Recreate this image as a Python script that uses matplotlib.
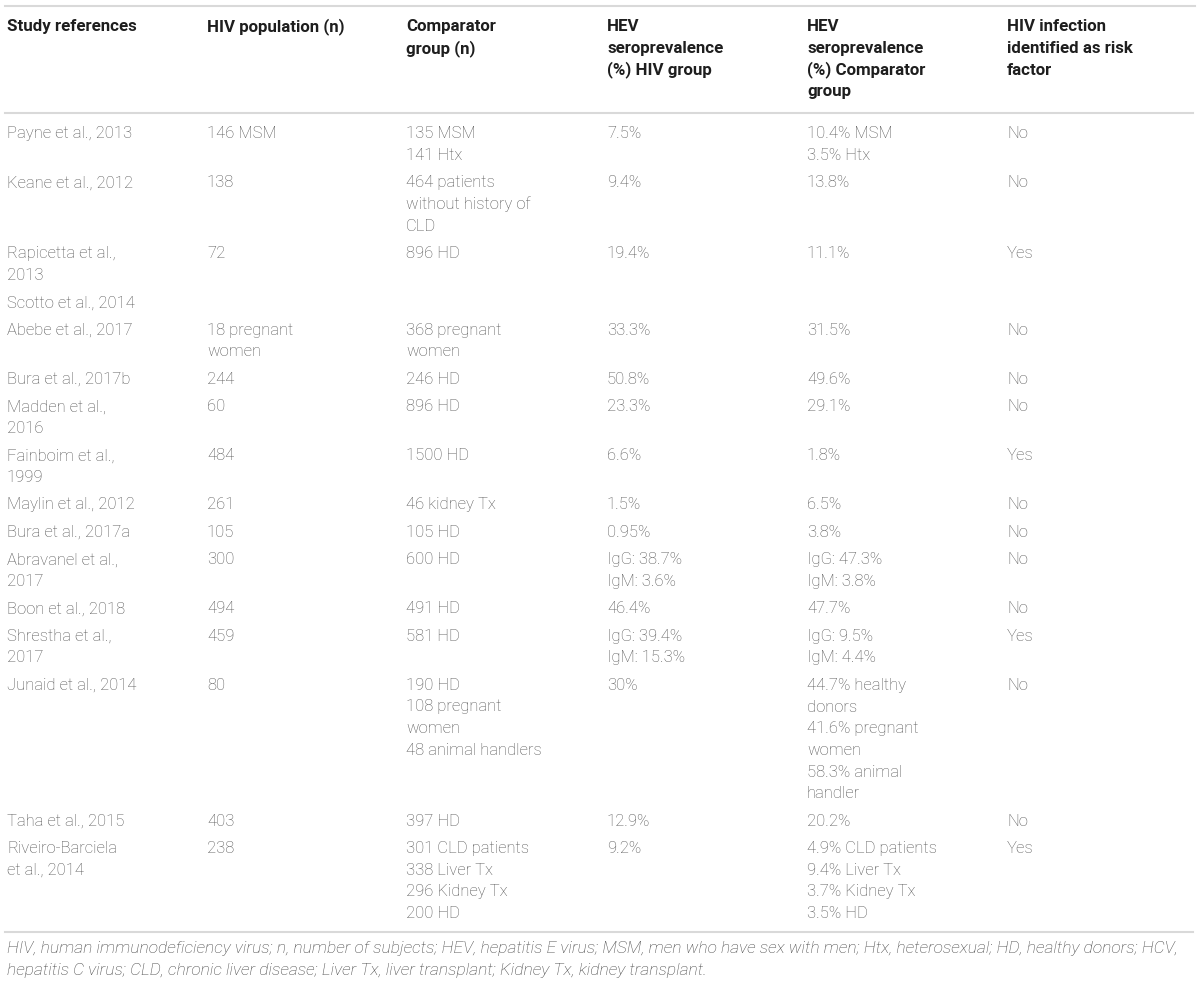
import matplotlib.pyplot as plt

# table content (line breaks as in the published table)
headers = ["Study references", "HIV population (n)", "Comparator\ngroup (n)",
           "HEV\nseroprevalence\n(%) HIV group",
           "HEV\nseroprevalence\n(%) Comparator\ngroup",
           "HIV infection\nidentified as risk\nfactor"]

studies = ["Payne et al., 2013", "Keane et al., 2012", "Rapicetta et al.,\n2013",
           "Scotto et al., 2014", "Abebe et al., 2017", "Bura et al., 2017b",
           "Madden et al.,\n2016", "Fainboim et al.,\n1999", "Maylin et al., 2012",
           "Bura et al., 2017a", "Abravanel et al.,\n2017", "Boon et al., 2018",
           "Shrestha et al.,\n2017", "Junaid et al., 2014", "Taha et al., 2015",
           "Riveiro-Barciela\net al., 2014"]
hiv_pop = ["146 MSM", "138", "72", "", "18 pregnant\nwomen", "244", "60", "484",
           "261", "105", "300", "494", "459", "80", "403", "238"]
comparator = ["135 MSM\n141 Htx", "464 patients\nwithout history of\nCLD", "896 HD", "",
              "368 pregnant\nwomen", "246 HD", "896 HD", "1500 HD", "46 kidney Tx",
              "105 HD", "600 HD", "491 HD", "581 HD",
              "190 HD\n108 pregnant\nwomen\n48 animal handlers", "397 HD",
              "301 CLD patients\n338 Liver Tx\n296 Kidney Tx\n200 HD"]
hev_hiv = ["7.5%", "9.4%", "19.4%", "", "33.3%", "50.8%", "23.3%", "6.6%", "1.5%",
           "0.95%", "IgG: 38.7%\nIgM: 3.6%", "46.4%", "IgG: 39.4%\nIgM: 15.3%", "30%",
           "12.9%", "9.2%"]
hev_comp = ["10.4% MSM\n3.5% Htx", "13.8%", "11.1%", "", "31.5%", "49.6%", "29.1%",
            "1.8%", "6.5%", "3.8%", "IgG: 47.3%\nIgM: 3.8%", "47.7%",
            "IgG: 9.5%\nIgM: 4.4%",
            "44.7% healthy\ndonors\n41.6% pregnant\nwomen\n58.3% animal\nhandler",
            "20.2%", "4.9% CLD patients\n9.4% Liver Tx\n3.7% Kidney Tx\n3.5% HD"]
risk = ["No", "No", "Yes", "", "No", "No", "No", "Yes", "No", "No", "No", "No",
        "Yes", "No", "No", "Yes"]

footnote = ["HIV, human immunodeficiency virus; n, number of subjects; HEV, hepatitis E virus; "
            "MSM, men who have sex with men; Htx, heterosexual; HD, healthy donors; HCV,",
            "hepatitis C virus; CLD, chronic liver disease; Liver Tx, liver transplant; "
            "Kidney Tx, kidney transplant."]

columns = [studies, hiv_pop, comparator, hev_hiv, hev_comp, risk]

plt.rcParams['font.family'] = ['Roboto', 'DejaVu Sans']

fig = plt.figure(figsize=(12, 9.83), dpi=100)
ax = fig.add_axes([0, 0, 1, 1])
ax.set_xlim(0, 1200)
ax.set_ylim(983, 0)
ax.axis('off')

col_x = [7, 207, 406, 607, 807, 1007]
line_h = 21.7
row_gap = 5.7
cap = 11.3
fs = 12.0
body_col = '#555555'
head_col = '#1e1e1e'
rule_col = '#d9d9d9'


def put(x, top, txt, size, **kw):
    for k, line in enumerate(txt.split('\n')):
        if line:
            ax.text(x, top + cap + k * line_h, line, va='baseline', ha='left',
                    fontsize=size, **kw)


# rules
ax.plot([5, 1195], [6, 6], color=rule_col, lw=1.5)
ax.plot([5, 1193], [113, 113], color=rule_col, lw=1.5)
ax.plot([5, 1193], [932, 932], color=rule_col, lw=1.5)

# header
for x, h in zip(col_x, headers):
    put(x, 20, h, 12.2, color=head_col, fontweight='bold')

# body
y = 127
for i in range(len(studies)):
    n = max(len(c[i].split('\n')) for c in columns)
    for x, c in zip(col_x, columns):
        put(x, y, c[i], fs, color=body_col, fontweight='light')
    y += n * line_h + row_gap

# footnote
for k, line in enumerate(footnote):
    ax.text(7, 953 + k * 22, line, va='baseline', ha='left', fontsize=12.5,
            style='italic', color='#444444', fontweight='light')

fig.savefig('out.png', dpi=100)
